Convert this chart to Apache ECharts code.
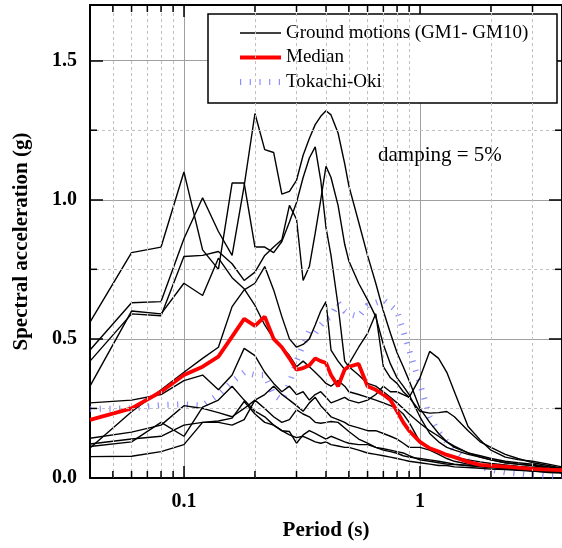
<!DOCTYPE html>
<html>
<head>
<meta charset="utf-8">
<script src="https://cdn.jsdelivr.net/npm/echarts@6/dist/echarts.min.js"></script>
<style>html,body{margin:0;padding:0;background:#fff;}#chart{width:562px;height:548px;}</style>
</head>
<body>
<div id="chart"></div>
<script>
// Periods (s)
const periods = [0.04,0.06,0.08,0.1,0.12,0.14,0.16,0.18,0.2,0.22,0.24,0.26,0.28,0.3,0.32,0.34,0.36,0.38,0.4,0.42,0.45,0.48,0.5,0.55,0.6,0.65,0.7,0.75,0.8,0.85,0.9,1.0,1.1,1.2,1.3,1.4,1.6,1.8,2.0,2.3,2.6,3.0,3.5,4.0];

// Spectral accelerations (g) of the ground motions
const gm1 = [0.56,0.81,0.83,1.10,0.82,0.75,1.06,1.06,0.83,0.83,0.81,0.85,0.92,0.99,1.08,1.15,1.19,1.07,0.90,0.80,0.62,0.42,0.40,0.37,0.34,0.33,0.31,0.29,0.27,0.25,0.23,0.197,0.17,0.15,0.13,0.115,0.09,0.075,0.065,0.055,0.05,0.045,0.035,0.03];
const gm2 = [0.46,0.63,0.634,0.86,1.007,0.886,0.80,1.05,1.31,1.18,1.17,1.02,1.03,1.07,1.16,1.22,1.27,1.30,1.32,1.305,1.24,1.13,1.05,0.92,0.80,0.70,0.60,0.52,0.45,0.40,0.35,0.25,0.20,0.16,0.13,0.11,0.09,0.08,0.07,0.06,0.055,0.05,0.04,0.035];
const gm3 = [0.42,0.59,0.583,0.796,0.80,0.814,0.77,0.71,0.74,0.80,0.83,0.856,0.98,0.93,0.71,0.76,0.88,1.0,1.12,1.08,0.98,0.84,0.78,0.70,0.64,0.58,0.48,0.41,0.36,0.33,0.30,0.22,0.16,0.13,0.11,0.10,0.085,0.075,0.065,0.055,0.05,0.045,0.04,0.035];
const gm4 = [0.33,0.60,0.59,0.70,0.656,0.79,0.72,0.68,0.62,0.55,0.50,0.47,0.44,0.40,0.42,0.40,0.38,0.36,0.34,0.33,0.35,0.33,0.31,0.30,0.29,0.28,0.27,0.26,0.25,0.23,0.20,0.13,0.11,0.095,0.085,0.075,0.065,0.058,0.052,0.047,0.042,0.038,0.033,0.028];
const gm5 = [0.27,0.28,0.30,0.35,0.37,0.317,0.37,0.466,0.44,0.38,0.34,0.31,0.33,0.30,0.31,0.28,0.30,0.31,0.29,0.27,0.28,0.29,0.28,0.27,0.28,0.30,0.33,0.31,0.31,0.30,0.29,0.36,0.455,0.43,0.38,0.31,0.185,0.137,0.10,0.075,0.066,0.06,0.05,0.04];
const gm6 = [0.143,0.165,0.19,0.26,0.25,0.235,0.22,0.25,0.28,0.30,0.33,0.30,0.28,0.26,0.24,0.27,0.29,0.26,0.24,0.22,0.21,0.20,0.19,0.18,0.17,0.17,0.16,0.15,0.14,0.125,0.11,0.11,0.10,0.085,0.07,0.06,0.05,0.045,0.04,0.035,0.03,0.027,0.024,0.02];
const gm7 = [0.122,0.14,0.15,0.19,0.20,0.20,0.19,0.21,0.28,0.25,0.22,0.20,0.21,0.245,0.23,0.22,0.20,0.197,0.20,0.203,0.20,0.18,0.167,0.14,0.125,0.11,0.10,0.095,0.089,0.08,0.075,0.07,0.065,0.06,0.055,0.05,0.045,0.042,0.04,0.035,0.03,0.025,0.02,0.018];
const gm8 = [0.113,0.13,0.20,0.15,0.255,0.28,0.33,0.28,0.24,0.22,0.19,0.17,0.167,0.125,0.155,0.17,0.16,0.15,0.14,0.15,0.14,0.13,0.125,0.12,0.12,0.11,0.105,0.10,0.095,0.09,0.08,0.065,0.06,0.055,0.05,0.048,0.045,0.04,0.037,0.033,0.03,0.027,0.024,0.02];
const gm9 = [0.108,0.238,0.317,0.38,0.43,0.47,0.616,0.676,0.70,0.76,0.676,0.58,0.50,0.47,0.48,0.50,0.55,0.60,0.634,0.46,0.42,0.39,0.41,0.47,0.52,0.59,0.40,0.36,0.34,0.31,0.29,0.24,0.233,0.235,0.239,0.22,0.17,0.13,0.11,0.085,0.07,0.055,0.045,0.035];
const gm10 = [0.077,0.078,0.095,0.12,0.20,0.205,0.215,0.275,0.23,0.20,0.19,0.17,0.155,0.145,0.15,0.14,0.13,0.125,0.13,0.12,0.115,0.11,0.11,0.10,0.09,0.085,0.08,0.075,0.07,0.065,0.06,0.055,0.05,0.045,0.045,0.04,0.038,0.035,0.032,0.03,0.028,0.025,0.022,0.02];

const median = [0.209,0.25,0.31,0.37,0.40,0.436,0.508,0.572,0.547,0.58,0.50,0.47,0.43,0.389,0.395,0.405,0.43,0.42,0.413,0.37,0.33,0.39,0.40,0.41,0.33,0.317,0.30,0.28,0.24,0.20,0.17,0.13,0.107,0.095,0.083,0.075,0.058,0.047,0.044,0.041,0.037,0.033,0.03,0.028];
const tokachi = [0.248,0.25,0.262,0.265,0.26,0.30,0.345,0.38,0.37,0.37,0.30,0.28,0.34,0.42,0.48,0.53,0.52,0.55,0.57,0.58,0.63,0.60,0.59,0.58,0.62,0.63,0.64,0.62,0.60,0.53,0.46,0.34,0.22,0.165,0.13,0.10,0.06,0.04,0.03,0.02,0.016,0.01,0.007,0.005];

// Axis settings / tick positions
const xMin = 0.04, xMax = 4;
const yMin = 0, yMax = 1.7;
const xMinorTicks = [0.05,0.06,0.07,0.08,0.09,0.2,0.3,0.4,0.5,0.6,0.7,0.8,0.9,2,3];
const yMinorTicks = [0.25,0.75,1.25];

const groundMotions = [gm1,gm2,gm3,gm4,gm5,gm6,gm7,gm8,gm9,gm10];
const GM_NAME = 'Ground motions (GM1- GM10)';
const FONT = "'Liberation Serif','Times New Roman',serif";

function pairs(vals){ return periods.map((p,i)=>[p, vals[i]]); }

const series = [];
// minor dashed grid lines
series.push({
  type:'line', data:[], z:1, silent:true, symbol:'none',
  markLine:{
    silent:true, symbol:'none', animation:false,
    label:{show:false},
    lineStyle:{color:'#c0c0c0', width:1, type:[3,3]},
    data: xMinorTicks.map(v=>({xAxis:v})).concat(yMinorTicks.map(v=>({yAxis:v})))
  }
});
series.push({
  name:'Tokachi-Oki', type:'line', data:pairs(tokachi), symbol:'none', z:2,
  lineStyle:{color:'#7070ff', width:6, type:[1.2,8.5], cap:'butt', opacity:0.8},
  itemStyle:{color:'#7070ff'}
});
groundMotions.forEach(g=>{
  series.push({name:GM_NAME, type:'line', data:pairs(g), symbol:'none', z:2,
    lineStyle:{color:'#000', width:1.4}, itemStyle:{color:'#000'}});
});
series.push({
  name:'Median', type:'line', data:pairs(median), symbol:'none', z:3,
  lineStyle:{color:'#ff0000', width:3.8}, itemStyle:{color:'#ff0000'}
});
// minor ticks drawn through the axes' scales
const tickData = xMinorTicks.map(v=>[v, yMin, 0]).concat(yMinorTicks.map(v=>[xMin, v, 1]));
series.push({
  type:'custom', data:tickData, z:6, silent:true, clip:false,
  encode:{x:0, y:1},
  renderItem:function(params, api){
    const kind = api.value(2);
    const st = {stroke:'#000', lineWidth:1.5};
    if (kind === 0) {
      const v = api.value(0);
      const b = api.coord([v, yMin]), t = api.coord([v, yMax]);
      return {type:'group', children:[
        {type:'line', shape:{x1:b[0],y1:b[1],x2:b[0],y2:b[1]-7}, style:st},
        {type:'line', shape:{x1:t[0],y1:t[1],x2:t[0],y2:t[1]+7}, style:st}
      ]};
    } else {
      const v = api.value(1);
      const l = api.coord([xMin, v]), r = api.coord([xMax, v]);
      return {type:'group', children:[
        {type:'line', shape:{x1:l[0],y1:l[1],x2:l[0]+7,y2:l[1]}, style:st},
        {type:'line', shape:{x1:r[0],y1:r[1],x2:r[0]-7,y2:r[1]}, style:st}
      ]};
    }
  }
});

const axisLineStyle = {show:true, onZero:false, lineStyle:{color:'#000', width:2}};
const chart = echarts.init(document.getElementById('chart'), null, {renderer:'canvas'});
chart.setOption({
  animation:false,
  backgroundColor:'#fff',
  grid:{left:90, top:5, width:475, height:473, containLabel:false},
  xAxis:[{
    type:'log', logBase:10, min:xMin, max:xMax, position:'bottom',
    axisLine:axisLineStyle,
    axisTick:{show:true, inside:true, length:12, lineStyle:{color:'#000', width:1.5}},
    axisLabel:{show:true, showMinLabel:false, showMaxLabel:false, margin:14,
      color:'#000', fontFamily:FONT, fontWeight:'bold', fontSize:20,
      formatter:function(v){ if (Math.abs(v-0.1)<1e-9) return '0.1'; if (Math.abs(v-1)<1e-9) return '1'; return ''; }},
    splitLine:{show:true, lineStyle:{color:'#a0a0a0', width:1}},
    name:'Period (s)', nameLocation:'middle', nameGap:42,
    nameTextStyle:{color:'#000', fontFamily:FONT, fontWeight:'bold', fontSize:21}
  },{
    type:'log', logBase:10, min:xMin, max:xMax, position:'top',
    axisLine:axisLineStyle,
    axisTick:{show:true, inside:true, length:12, lineStyle:{color:'#000', width:1.5}},
    axisLabel:{show:false}, splitLine:{show:false}
  }],
  yAxis:[{
    type:'value', min:yMin, max:yMax, interval:0.5, position:'left',
    axisLine:axisLineStyle,
    axisTick:{show:true, inside:true, length:13, lineStyle:{color:'#000', width:1.5}},
    axisLabel:{show:true, showMaxLabel:false, margin:13, color:'#000', fontFamily:FONT, fontWeight:'bold', fontSize:20,
      formatter:function(v){ return v.toFixed(1); }},
    splitLine:{show:true, lineStyle:{color:'#a0a0a0', width:1}},
    name:'Spectral acceleration (g)', nameLocation:'middle', nameGap:58, nameRotate:90,
    nameTextStyle:{color:'#000', fontFamily:FONT, fontWeight:'bold', fontSize:21}
  },{
    type:'value', min:yMin, max:yMax, interval:0.5, position:'right',
    axisLine:axisLineStyle,
    axisTick:{show:true, inside:true, length:13, lineStyle:{color:'#000', width:1.5}},
    axisLabel:{show:false}, splitLine:{show:false}
  }],
  legend:{
    show:true, orient:'vertical', left:237, top:23, z:4, padding:0,
    itemWidth:41, itemHeight:14, itemGap:4.5,
    itemStyle:{opacity:0, borderWidth:0},
    lineStyle:{width:'inherit'},
    data:[GM_NAME, 'Median', 'Tokachi-Oki'],
    textStyle:{color:'#000', fontFamily:FONT, fontSize:19, lineHeight:20},
    selectedMode:false
  },
  graphic:[
    {type:'rect', z:3, shape:{x:208, y:14, width:349, height:89}, style:{fill:'#fff', stroke:'#000', lineWidth:1.5}},
    {type:'text', z:5, left:378, top:145, style:{text:'damping = 5%', font:"21px 'Liberation Serif','Times New Roman',serif", fill:'#000'}}
  ],
  series:series
});
</script>
</body>
</html>
